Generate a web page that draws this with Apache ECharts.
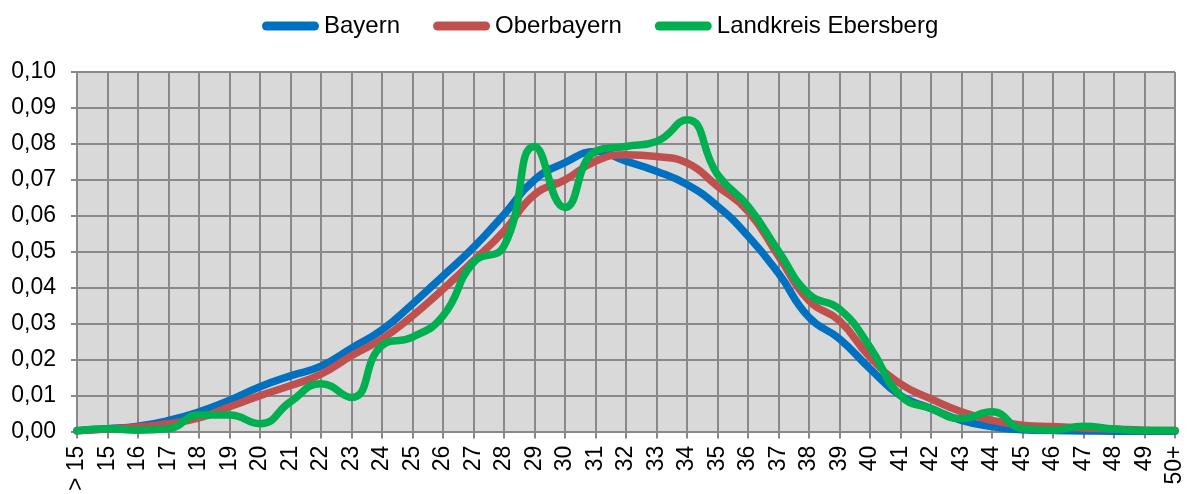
<!DOCTYPE html>
<html>
<head>
<meta charset="utf-8">
<script src="https://cdn.jsdelivr.net/npm/echarts@6/dist/echarts.min.js"></script>
<style>html,body{margin:0;padding:0;background:#fff;}#c{width:1191px;height:494px;}</style>
</head>
<body>
<div id="c"></div>
<script>
const categories = ['> 15','15','16','17','18','19','20','21','22','23','24','25','26','27','28','29','30','31','32','33','34','35','36','37','38','39','40','41','42','43','44','45','46','47','48','49','50+'];
const bayern = [0.0003,0.0008,0.0015,0.0031,0.0055,0.0087,0.0125,0.0155,0.0182,0.0232,0.0283,0.0355,0.0433,0.0512,0.0604,0.0700,0.0748,0.0779,0.0752,0.0724,0.0687,0.0627,0.0544,0.0440,0.0318,0.0258,0.0175,0.0100,0.0064,0.0031,0.0014,0.0005,0.0003,0.0002,0.0001,0.0001,0.0001];
const oberbayern = [0.0002,0.0007,0.0013,0.0022,0.0038,0.0069,0.0100,0.0128,0.0160,0.0211,0.0258,0.0322,0.0396,0.0475,0.0558,0.0659,0.0700,0.0752,0.0770,0.0765,0.0747,0.0682,0.0613,0.0488,0.0364,0.0308,0.0207,0.0133,0.0091,0.0055,0.0031,0.0018,0.0014,0.0010,0.0007,0.0004,0.0003];
const ebersberg = [0.0002,0.0008,0.0004,0.0008,0.0046,0.0046,0.0022,0.0083,0.0133,0.0095,0.0239,0.0263,0.0322,0.0470,0.0516,0.0793,0.0623,0.0779,0.0793,0.0807,0.0867,0.0715,0.0627,0.0502,0.0382,0.0341,0.0235,0.0100,0.0064,0.0036,0.0055,0.0008,0.0004,0.0015,0.0007,0.0003,0.0003];
const seriesNames = ['Bayern','Oberbayern','Landkreis Ebersberg'];
const colors = ['#0070C0','#C0504D','#00B050'];

const chart = echarts.init(document.getElementById('c'), null, {renderer:'canvas'});
const font = 'Liberation Sans, Arial, sans-serif';
const gridColor = '#898989';
const mk = (name, data, color) => ({
  name, type:'line', data, smooth:0.5, showSymbol:false, symbol:'none', clip:false,
  lineStyle:{color, width:7.5, cap:'round', join:'round'}, itemStyle:{color}
});
chart.setOption({
  animation:false,
  legend:{
    top:9, left:257, itemGap:33, itemWidth:57, itemHeight:9,
    icon:'path://M4.5,0 H52.5 A4.5,4.5 0 0 1 52.5,9 H4.5 A4.5,4.5 0 0 1 4.5,0 Z',
    textStyle:{fontFamily:font, fontSize:24, color:'#000'},
    data:seriesNames
  },
  grid:{left:77, right:16, top:72, bottom:61, show:true, backgroundColor:'#d9d9d9', borderWidth:0, containLabel:false},
  xAxis:{
    type:'category', data:categories, boundaryGap:false,
    axisLine:{lineStyle:{color:gridColor, width:2}},
    axisTick:{show:true, length:7, lineStyle:{color:gridColor, width:2}, alignWithLabel:true},
    axisLabel:{rotate:90, interval:0, margin:14, fontFamily:font, fontSize:23, color:'#000'},
    splitLine:{show:true, lineStyle:{color:gridColor, width:2}}
  },
  yAxis:{
    type:'value', min:0, max:0.1, interval:0.01,
    axisLine:{show:true, lineStyle:{color:gridColor, width:2}},
    axisTick:{show:true, length:6, lineStyle:{color:gridColor, width:2}},
    axisLabel:{margin:21, fontFamily:font, fontSize:23, color:'#000', formatter:v=>v.toFixed(2).replace('.',',')},
    splitLine:{show:true, lineStyle:{color:gridColor, width:2}}
  },
  series:[mk(seriesNames[0], bayern, colors[0]), mk(seriesNames[1], oberbayern, colors[1]), mk(seriesNames[2], ebersberg, colors[2])]
});
</script>
</body>
</html>
